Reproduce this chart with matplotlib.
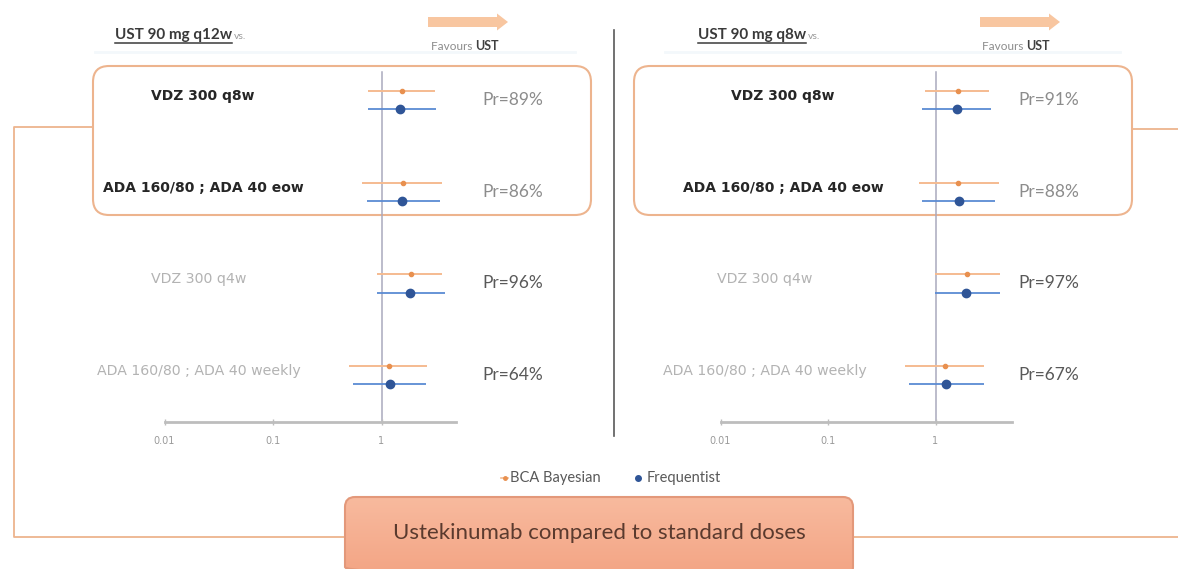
import matplotlib
matplotlib.use("Agg")
import matplotlib.pyplot as plt
import numpy as np
from matplotlib.patches import FancyArrow, FancyBboxPatch

# Treatments compared against each ustekinumab regimen
rows = ["VDZ 300 q8w", "ADA 160/80 ; ADA 40 eow", "VDZ 300 q4w", "ADA 160/80 ; ADA 40 weekly"]
boxed_rows = 2  # the first two rows are the standard doses

# UST 90 mg q12w vs. ...
q12w_bayes_est = [1.55, 1.58, 1.87, 1.17]
q12w_bayes_lo = [0.75, 0.66, 0.91, 0.50]
q12w_bayes_hi = [3.11, 3.61, 3.61, 2.63]
q12w_freq_est = [1.48, 1.55, 1.83, 1.20]
q12w_freq_lo = [0.75, 0.73, 0.91, 0.55]
q12w_freq_hi = [3.18, 3.46, 3.85, 2.57]
q12w_prob = [89, 86, 96, 64]

# UST 90 mg q8w vs. ...
q8w_bayes_est = [1.62, 1.62, 1.96, 1.22]
q8w_bayes_lo = [0.80, 0.70, 0.99, 0.52]
q8w_bayes_hi = [3.14, 3.90, 3.98, 2.83]
q8w_freq_est = [1.58, 1.65, 1.92, 1.25]
q8w_freq_lo = [0.75, 0.75, 0.99, 0.57]
q8w_freq_hi = [3.28, 3.58, 3.98, 2.83]
q8w_prob = [91, 88, 97, 67]

x_ticks = [0.01, 0.1, 1]
x_tick_labels = ["0.01", "0.1", "1"]

W, H = 1178, 569
ORANGE_LINE = "#F5BB90"
ORANGE_DOT = "#E8904F"
BLUE_LINE = "#5B8BD3"
BLUE_DOT = "#2F5597"
BOX_EDGE = "#EDB48E"
CALIBRI = ["Lato", "DejaVu Sans"]

fig = plt.figure(figsize=(W / 100, H / 100), dpi=100)
fig.patch.set_facecolor("white")

# full-figure overlay working in pixel units (origin top-left)
over = fig.add_axes([0, 0, 1, 1], zorder=0)
over.set_xlim(0, W)
over.set_ylim(H, 0)
over.axis("off")


def text_extent(t):
    fig.canvas.draw()
    bb = t.get_window_extent().transformed(over.transData.inverted())
    return min(bb.x0, bb.x1), max(bb.x0, bb.x1), max(bb.y0, bb.y1)


def add_forest(left, right_lim, decade, title, bayes, freq, prob,
               label_cx, gray_cx, box_x, header_x, prob_cx, arrow_x, favours_x):
    top, bottom = 60, 422
    row0, step = 100, 91.7
    width = decade * (np.log10(right_lim) + 2)
    ax = fig.add_axes([left / W, 1 - bottom / H, width / W, (bottom - top) / H], zorder=2)
    ax.patch.set_alpha(0)
    ax.set_xscale("log")
    ax.set_xlim(0.01, right_lim)
    ax.set_ylim((bottom - row0) / step, (top - row0) / step)

    y = np.arange(len(rows))
    b_est, b_lo, b_hi = bayes
    f_est, f_lo, f_hi = freq
    ax.plot([1, 1], [(72 - row0) / step, (bottom - row0) / step], color="#A9A9BD", lw=1.1, zorder=1)
    ax.hlines(y - 0.1, b_lo, b_hi, color=ORANGE_LINE, lw=1.4, zorder=2)
    ax.plot(b_est, y - 0.1, "o", ms=3, color=ORANGE_DOT, zorder=3)
    ax.hlines(y + 0.1, f_lo, f_hi, color=BLUE_LINE, lw=1.3, zorder=2)
    ax.plot(f_est, y + 0.1, "o", ms=6, color=BLUE_DOT, zorder=3)

    for s in ["top", "right", "left"]:
        ax.spines[s].set_visible(False)
    ax.spines["bottom"].set_color("#BDBDBD")
    ax.spines["bottom"].set_linewidth(2)
    ax.set_yticks([])
    ax.set_xticks(x_ticks)
    ax.set_xticklabels(x_tick_labels)
    ax.minorticks_off()
    ax.tick_params(axis="x", direction="inout", length=4, width=1, color="#BDBDBD",
                   labelsize=7, labelcolor="#9A9A9A", pad=8)

    # row labels and probabilities
    for i, name in enumerate(rows):
        yc = row0 + step * i
        if i < boxed_rows:
            over.text(label_cx, yc - 4, name, ha="center", va="center", fontsize=10,
                      fontweight="bold", color="#262626")
            pc = "#8C8C8C"
        else:
            over.text(gray_cx, yc - 4, name, ha="center", va="center", fontsize=10.2,
                      color="#B3B3B3")
            pc = "#595959"
        over.text(prob_cx, yc, f"Pr={prob[i]}%", ha="center", va="center", fontsize=12.5,
                  family=CALIBRI, color=pc)

    # rounded box around the standard-dose rows
    over.add_patch(FancyBboxPatch((box_x, 66), 498, 149, boxstyle="round,pad=0,rounding_size=16",
                                  fc="none", ec=BOX_EDGE, lw=1.5, zorder=1))

    # header: underlined regimen then "vs."
    t = over.text(header_x, 35, title, ha="left", va="center", fontsize=11,
                  fontweight="bold", color="#3A3A3A", family=CALIBRI)
    x0, x1, yb = text_extent(t)
    over.plot([x0, x1], [yb + 0.5, yb + 0.5], color="#3A3A3A", lw=1.1)
    over.text(x1 + 2, 36, "vs.", ha="left", va="center", fontsize=7.5, color="#9A9A9A",
              family=CALIBRI)

    # "Favours UST" arrow
    over.add_patch(FancyArrow(arrow_x, 22, 80, 0, width=10, head_width=17, head_length=11,
                              length_includes_head=True, fc="#F8C6A0", ec="none"))
    f1 = over.text(favours_x, 46, "Favours ", ha="left", va="center", fontsize=8.5,
                   color="#8C8C8C", family=CALIBRI)
    _, fx1, _ = text_extent(f1)
    over.text(fx1, 46, "UST", ha="left", va="center", fontsize=9,
              fontweight="bold", color="#404040", family=CALIBRI)
    return ax


add_forest(164.5, 4.9, 108.5, "UST 90 mg q12w",
           (q12w_bayes_est, q12w_bayes_lo, q12w_bayes_hi),
           (q12w_freq_est, q12w_freq_lo, q12w_freq_hi), q12w_prob,
           label_cx=203, gray_cx=199, box_x=93, header_x=115, prob_cx=513,
           arrow_x=428, favours_x=431)
add_forest(720.5, 5.1, 107.5, "UST 90 mg q8w",
           (q8w_bayes_est, q8w_bayes_lo, q8w_bayes_hi),
           (q8w_freq_est, q8w_freq_lo, q8w_freq_hi), q8w_prob,
           label_cx=783, gray_cx=765, box_x=634, header_x=698, prob_cx=1049,
           arrow_x=980, favours_x=982)

# panel separator
over.plot([614, 614], [30, 436], color="#595959", lw=1.2)

# faint guide bands under the headers
for xa, xb in [(95, 575), (665, 1120)]:
    over.plot([xa, xb], [52, 52], color="#F3F8FB", lw=2, zorder=0)

# bracket connecting both boxes to the caption
over.plot([93, 14, 14, 345], [127, 127, 537, 537], color=BOX_EDGE, lw=1.3)
over.plot([1132, W], [129, 129], color=BOX_EDGE, lw=1.3)
over.plot([853, W], [537, 537], color=BOX_EDGE, lw=1.3)

# legend
over.plot([501, 508], [478, 478], color=ORANGE_LINE, lw=1.2)
over.plot([504.5], [478], "o", ms=2.5, color=ORANGE_DOT)
over.text(510, 478, "BCA Bayesian", ha="left", va="center", fontsize=10.5, color="#595959",
          family=CALIBRI)
over.plot([638], [478], "o", ms=4, color=BLUE_DOT)
over.text(647, 478, "Frequentist", ha="left", va="center", fontsize=10.5, color="#595959",
          family=CALIBRI)

# caption button with a soft vertical gradient
btn = FancyBboxPatch((345, 497), 508, 80, boxstyle="round,pad=0,rounding_size=10",
                     fc="none", ec="#E3987A", lw=1.5, zorder=3)
over.add_patch(btn)
grad = np.linspace(0, 1, 100).reshape(-1, 1)
top_c = np.array([248, 186, 158]) / 255
bot_c = np.array([243, 164, 132]) / 255
img = top_c + grad[..., None] * (bot_c - top_c)
im = over.imshow(img, extent=[345, 853, 577, 497], aspect="auto", zorder=2)
im.set_clip_path(btn)
over.set_xlim(0, W)
over.set_ylim(H, 0)
over.text(599, 533, "Ustekinumab compared to standard doses", ha="center", va="center",
          fontsize=16, color="#5A3A2E", family=CALIBRI, zorder=4)

fig.savefig("out.png", dpi=100, facecolor="white")
